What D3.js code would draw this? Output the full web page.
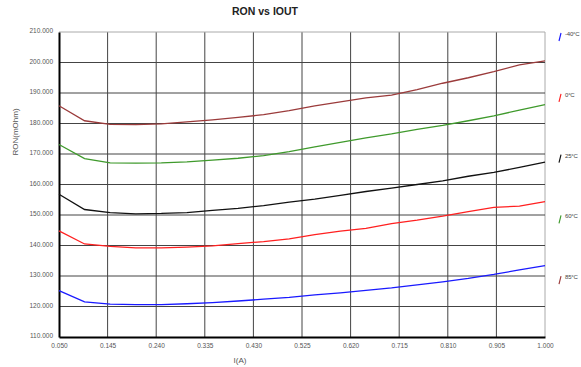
<!DOCTYPE html>
<html>
<head>
<meta charset="utf-8">
<script src="https://cdn.jsdelivr.net/npm/d3@7"></script>
<style>
  body { margin: 0; background: #fff; }
  svg { display: block; font-family: "Liberation Sans", Arial, sans-serif; }
</style>
</head>
<body>
<svg id="chart" width="581" height="367"></svg>
<script>
// current steps (A)
const currents = [0.05, 0.10, 0.15, 0.20, 0.25, 0.30, 0.35, 0.40, 0.45, 0.50,
                  0.55, 0.60, 0.65, 0.70, 0.75, 0.80, 0.85, 0.90, 0.95, 1.00];

// RON (mOhm) per temperature
const ronM40 = [125.2, 121.5, 120.8, 120.6, 120.6, 120.9, 121.3, 121.8, 122.4, 123.0,
                123.8, 124.5, 125.3, 126.1, 127.1, 128.1, 129.2, 130.5, 132.0, 133.4];
const ron0   = [144.8, 140.5, 139.7, 139.2, 139.2, 139.5, 139.9, 140.6, 141.3, 142.2,
                143.6, 144.7, 145.6, 147.2, 148.3, 149.6, 151.1, 152.5, 152.9, 154.4];
const ron25  = [156.8, 151.8, 150.8, 150.4, 150.5, 150.8, 151.5, 152.2, 153.1, 154.2,
                155.2, 156.4, 157.7, 158.8, 160.0, 161.2, 162.7, 164.0, 165.6, 167.3];
const ron60  = [173.1, 168.5, 167.1, 167.0, 167.1, 167.4, 168.0, 168.6, 169.5, 170.8,
                172.3, 173.8, 175.3, 176.6, 178.1, 179.4, 180.9, 182.5, 184.4, 186.2];
const ron85  = [185.8, 180.9, 179.7, 179.6, 179.9, 180.5, 181.2, 182.0, 182.9, 184.2,
                185.8, 187.1, 188.4, 189.3, 191.1, 193.2, 195.0, 197.0, 199.2, 200.5];

const seriesNames = ['-40°C', '0°C', '25°C', '60°C', '85°C'];
const seriesValues = [ronM40, ron0, ron25, ron60, ron85];
const seriesColors = ['#1a1aff', '#ff2020', '#111111', '#3f9a2c', '#9b3b3b'];

const xTicks = [0.050, 0.145, 0.240, 0.335, 0.430, 0.525, 0.620, 0.715, 0.810, 0.905, 1.000];
const yTicks = [110, 120, 130, 140, 150, 160, 170, 180, 190, 200, 210];

const svg = d3.select('#chart');
const margin = { left: 59, right: 36, top: 32, bottom: 30 };
const width = 581, height = 367;

const xScale = d3.scaleLinear()
  .domain([0.05, 1.0])
  .range([margin.left, width - margin.right]);

const yScale = d3.scaleLinear()
  .domain([110, 210])
  .range([height - margin.bottom, margin.top]);

const fmt = d3.format('.3f');

// title
svg.append('text')
  .attr('x', 265)
  .attr('y', 15)
  .attr('text-anchor', 'middle')
  .attr('font-size', '10.5px')
  .attr('font-weight', 'bold')
  .attr('fill', '#222')
  .text('RON vs IOUT');

// grid lines
const grid = svg.append('g').attr('class', 'grid');
grid.selectAll('line.v')
  .data(xTicks.slice(1))
  .enter().append('line')
  .attr('class', 'v')
  .attr('x1', d => xScale(d)).attr('x2', d => xScale(d))
  .attr('y1', yScale(210)).attr('y2', yScale(110))
  .attr('stroke', d => d === 1.0 ? '#aaa' : '#444')
  .attr('stroke-width', 1);

grid.selectAll('line.h')
  .data(yTicks.slice(1))
  .enter().append('line')
  .attr('class', 'h')
  .attr('x1', xScale(0.05)).attr('x2', xScale(1.0))
  .attr('y1', d => yScale(d)).attr('y2', d => yScale(d))
  .attr('stroke', d => d === 210 ? '#aaa' : '#444')
  .attr('stroke-width', 1);

// axes
const xAxis = svg.append('g')
  .attr('transform', `translate(0,${yScale(110)})`)
  .call(d3.axisBottom(xScale).tickValues(xTicks).tickFormat(fmt).tickSize(0).tickPadding(6));
xAxis.select('.domain').attr('stroke', '#000').attr('stroke-width', 2);
xAxis.selectAll('.tick text').attr('fill', '#555').attr('font-size', '6.5px')
  .attr('font-family', '"Liberation Sans", Arial, sans-serif');

const yAxis = svg.append('g')
  .attr('transform', `translate(${xScale(0.05)},0)`)
  .call(d3.axisLeft(yScale).tickValues(yTicks).tickFormat(fmt).tickSize(0).tickPadding(6));
yAxis.select('.domain').attr('stroke', '#000').attr('stroke-width', 2);
yAxis.selectAll('.tick text').attr('fill', '#555').attr('font-size', '6.5px')
  .attr('dy', '0.1em')
  .attr('font-family', '"Liberation Sans", Arial, sans-serif');

// axis titles
svg.append('text')
  .attr('x', 240)
  .attr('y', 363)
  .attr('text-anchor', 'middle')
  .attr('font-size', '8px')
  .attr('fill', '#555')
  .text('I(A)');

svg.append('text')
  .attr('transform', 'rotate(-90)')
  .attr('x', -132)
  .attr('y', 18)
  .attr('text-anchor', 'middle')
  .attr('font-size', '8px')
  .attr('fill', '#555')
  .text('RON(mOhm)');

// lines
const line = d3.line()
  .x((d, i) => xScale(currents[i]))
  .y(d => yScale(d));

svg.append('g').selectAll('path')
  .data(seriesValues)
  .enter().append('path')
  .attr('d', line)
  .attr('fill', 'none')
  .attr('stroke', (d, i) => seriesColors[i])
  .attr('stroke-width', 1.3);

// legend
const legend = svg.append('g').selectAll('g')
  .data(seriesNames)
  .enter().append('g')
  .attr('transform', (d, i) => `translate(560,${37 + i * 60.8})`);

legend.append('line')
  .attr('x1', -1).attr('y1', 4)
  .attr('x2', 1).attr('y2', -4)
  .attr('stroke', (d, i) => seriesColors[i])
  .attr('stroke-width', 1.2);

legend.append('text')
  .attr('x', 5)
  .attr('y', -1)
  .attr('font-size', '6px')
  .attr('letter-spacing', '-0.2px')
  .attr('fill', '#444')
  .text(d => d);
</script>
</body>
</html>
